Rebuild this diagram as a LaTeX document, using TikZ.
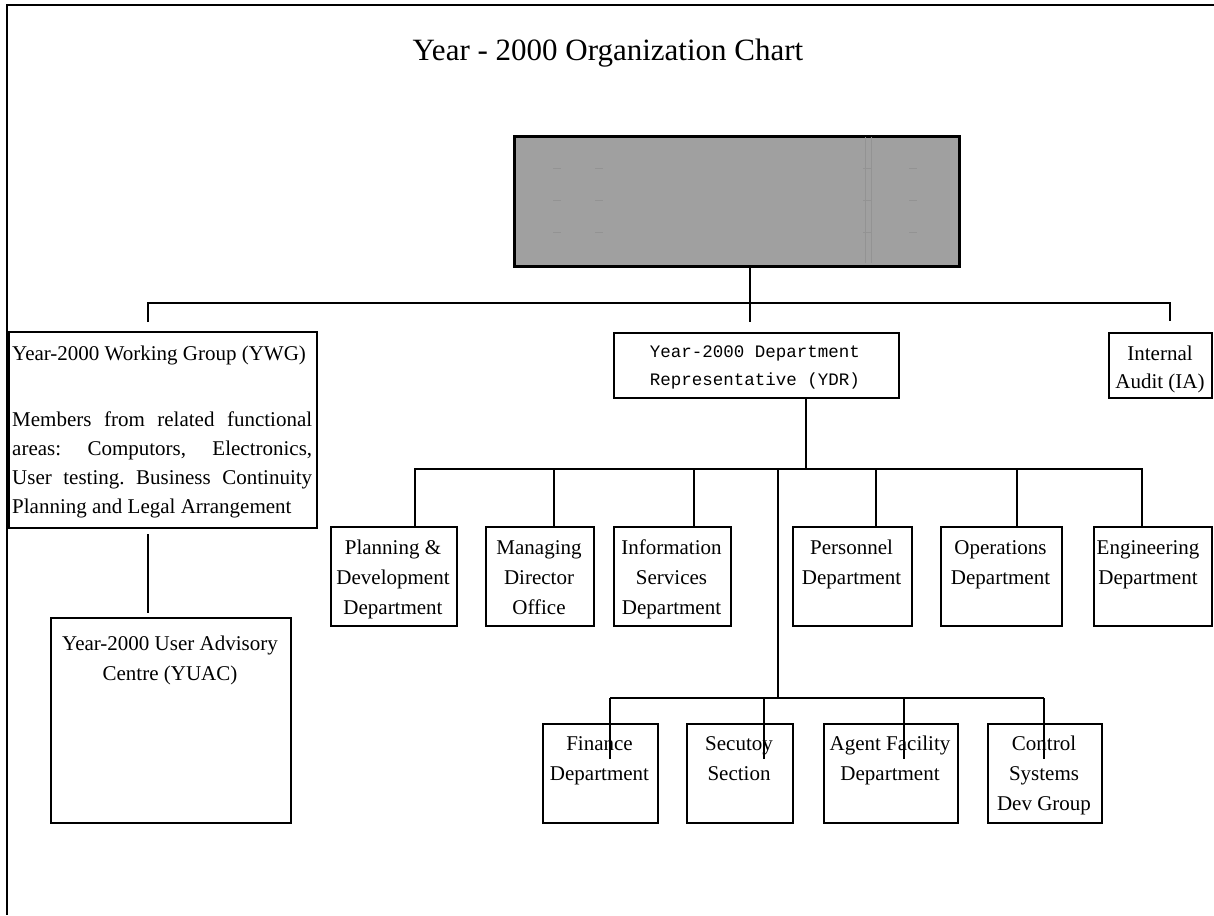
\documentclass[tikz,border=0pt]{standalone}
\usepackage{fontspec}
\setmainfont{Liberation Serif}
\newfontfamily\ydrfont{Liberation Mono}
\begin{document}
\begin{tikzpicture}[x=1pt,y=-1pt,
  conn/.style={line width=2.8pt},
  frameline/.style={line width=2.8pt},
  box/.style={draw, line width=2pt, anchor=north west, inner sep=0pt},
  lbl/.style={inner sep=0pt, anchor=north, align=center, font=\fontsize{21}{30}\selectfont},
  faint/.style={draw=black!20!white!72!black, line width=0.8pt}
]
\useasboundingbox (0,0) rectangle (1214,915);
% outer frame (top and left edges only)
\draw[frameline] (1214,5) -- (7,5) -- (7,915);
% title
\node[inner sep=0pt, font=\fontsize{31}{36}\selectfont] (title) at (608,53) {Year - 2000 Organization Chart};
% top grey box
\node[box, fill={rgb,255:red,160;green,160;blue,160}, minimum width=445pt, minimum height=130pt, line width=2.5pt] (top) at (513,135) {};
\foreach \xx in {865,871} \draw[faint] (\xx,137) -- (\xx,263);
\foreach \yy in {168,200,232} {
  \foreach \xa in {553,595,863,909} \draw[faint] (\xa,\yy) -- ++(8,0);
}
% level 1 boxes
\node[box, minimum width=308pt, minimum height=196pt] (ywg) at (8,331) {};
\node[inner sep=0pt, anchor=north west, font=\fontsize{21}{30}\selectfont] (ywgt) at (12,346) {Year-2000 Working Group (YWG)};
\node[inner sep=0pt, anchor=north west, text width=300pt, align=justify, font=\fontsize{21}{29}\selectfont] (ywgp) at (12,412)
  {\frenchspacing\noindent Members from related functional\linebreak areas: Computors, Electronics,\linebreak User testing. Business Continuity\linebreak Planning and Legal Arrangement};
\node[box, minimum width=285pt, minimum height=65pt] (ydr) at (613,332) {};
\node[lbl, font=\ydrfont\fontsize{17.5}{28}\selectfont] (ydrt) at (755,346) {Year-2000 Department\\Representative (YDR)};
\node[box, minimum width=103pt, minimum height=65pt] (ia) at (1108,332) {};
\node[lbl, font=\fontsize{21}{28}\selectfont] (iat) at (1160,346) {Internal\\Audit (IA)};
% YUAC
\node[box, minimum width=240pt, minimum height=205pt] (yuac) at (50,617) {};
\node[lbl] (yuact) at (170,636) {Year-2000 User Advisory\\Centre (YUAC)};
% row 1 departments
\node[box, minimum width=126pt, minimum height=99pt] (pd) at (330,526) {};
\node[lbl] at (393,540) {Planning \&\\Development\\Department};
\node[box, minimum width=108pt, minimum height=99pt] (md) at (485,526) {};
\node[lbl] at (539,540) {Managing\\Director\\Office};
\node[box, minimum width=117pt, minimum height=99pt] (is) at (613,526) {};
\node[lbl] at (671.5,540) {Information\\Services\\Department};
\node[box, minimum width=119pt, minimum height=99pt] (pe) at (792,526) {};
\node[lbl] at (851.5,540) {Personnel\\Department};
\node[box, minimum width=121pt, minimum height=99pt] (op) at (940,526) {};
\node[lbl] at (1000.5,540) {Operations\\Department};
\node[box, minimum width=118pt, minimum height=99pt] (en) at (1093,526) {};
\node[lbl] at (1148,540) {Engineering\\Department};
% row 2 departments
\node[box, minimum width=115pt, minimum height=99pt] (fi) at (542,723) {};
\node[lbl] at (599.5,736) {Finance\\Department};
\node[box, minimum width=106pt, minimum height=99pt] (se) at (686,723) {};
\node[lbl] at (739,736) {Secutoy\\Section};
\node[box, minimum width=134pt, minimum height=99pt] (ag) at (823,723) {};
\node[lbl] at (890,736) {Agent Facility\\Department};
\node[box, minimum width=114pt, minimum height=99pt] (co) at (987,723) {};
\node[lbl] at (1044,736) {Control\\Systems\\Dev Group};
% bus coordinates
\coordinate (b1L) at (148,303);
\coordinate (b1M) at (750,303);
\coordinate (b1R) at (1170,303);
\coordinate (ywT) at (148,322);
\coordinate (ydrT) at (750,322);
\coordinate (iaT) at (1170,321);
\coordinate (b2M) at (806,469);
\coordinate (b2L) at (415,469);
\coordinate (b2R) at (1142,469);
\coordinate (b2D) at (778,469);
\coordinate (b3M) at (778,698);
\coordinate (b3L) at (610,698);
\coordinate (b3R) at (1044,698);
% connectors level 1
\draw[conn] (top.south -| b1M) -- (b1M) -- (ydrT);
\draw[conn] (ywT) -- (b1L) -- (b1R) -- (iaT);
\draw[conn, shorten <=5pt, shorten >=4pt] (ywg.south -| ywT) -- (yuac.north -| ywT);
% connectors level 2
\draw[conn] (ydr.south -| b2M) -- (b2M);
\draw[conn] (b2L |- pd.north) -- (b2L) -- (b2R) -- (b2R |- en.north);
\foreach \n/\xx in {md/554, is/694, pe/876, op/1017} \draw[conn] (\xx,469) -- (\n.north -| \xx,0);
\draw[conn] (b2D) -- (b3M);
% connectors level 3
\draw[conn] (b3L) -- (b3R);
\foreach \n/\xx in {fi/610, se/764, ag/904, co/1044} \draw[conn] (\xx,698) -- (\xx,759);
\end{tikzpicture}
\end{document}
